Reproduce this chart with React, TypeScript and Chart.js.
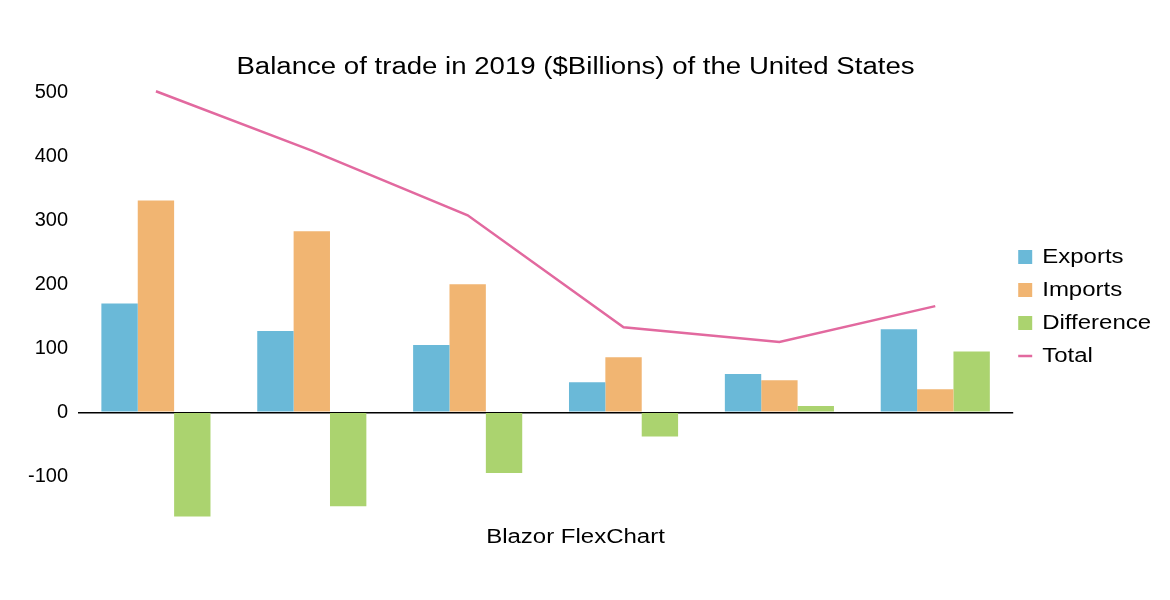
import React, { useEffect, useRef } from 'react';
import { Chart, registerables } from 'chart.js';

Chart.register(...registerables);

// ---- data ----
const categories = ['Group 1', 'Group 2', 'Group 3', 'Group 4', 'Group 5', 'Group 6'];
const exportsValues = [170, 127, 105, 47, 60, 130];
const importsValues = [331, 283, 200, 86, 50, 36];
const differenceValues = [-163, -147, -95, -38, 10, 95];
const totalValues = [502, 409, 308, 133, 110, 166];
const yTickValues = [-100, 0, 100, 200, 300, 400, 500];
const yMin = -170;
const yMax = 510;

const titleText = 'Balance of trade in 2019 ($Billions) of the United States';
const footerText = 'Blazor FlexChart';

const FONT = "'Liberation Sans', Arial, Helvetica, sans-serif";
const TEXT_STRETCH = 1.2;

// The reference renders its title, legend and footer text horizontally widened;
// this wraps the text boxes' drawing so their glyphs are widened about each text anchor.
const textStretchPlugin = {
  id: 'textStretch',
  afterLayout(chart: any) {
    if (chart.legend) {
      chart.legend.left -= 8;
      chart.legend.right = chart.width;
      chart.legend.top += 3;
      chart.legend.bottom += 3;
    }
  },
  beforeDraw(chart: any) {
    chart.boxes.forEach((b: any) => {
      if (b.axis || b.__stretched) return;
      const isLegend = b === chart.legend;
      const orig = b.draw;
      b.draw = function (...args: any[]) {
        const ctx = this.ctx;
        const proto = Object.getPrototypeOf(ctx);
        const baseFill = proto.fillText;
        ctx.fillText = function (text: string, x: number, y: number, maxWidth?: number) {
          this.save();
          this.translate(x, y);
          this.scale(TEXT_STRETCH, 1);
          if (maxWidth === undefined || isLegend) baseFill.call(this, text, 0, 0);
          else baseFill.call(this, text, 0, 0, maxWidth / TEXT_STRETCH);
          this.restore();
        };
        try {
          orig.apply(this, args);
        } finally {
          delete ctx.fillText;
        }
      };
      b.__stretched = true;
    });
  },
};

export default function App() {
  const ref = useRef<HTMLCanvasElement>(null);

  useEffect(() => {
    document.body.style.margin = '0';
    document.body.style.background = '#ffffff';
    const canvas = ref.current;
    if (!canvas) return;
    const chart = new Chart(canvas, {
      type: 'bar',
      data: {
        labels: categories,
        datasets: [
          {
            type: 'bar',
            label: 'Exports',
            data: exportsValues,
            backgroundColor: '#6ab9d8',
            borderColor: '#6ab9d8',
            borderWidth: 0,
            pointStyle: 'rect',
            categoryPercentage: 0.7,
            barPercentage: 1,
          },
          {
            type: 'bar',
            label: 'Imports',
            data: importsValues,
            backgroundColor: '#f1b572',
            borderColor: '#f1b572',
            borderWidth: 0,
            pointStyle: 'rect',
            categoryPercentage: 0.7,
            barPercentage: 1,
          },
          {
            type: 'bar',
            label: 'Difference',
            data: differenceValues,
            backgroundColor: '#abd36f',
            borderColor: '#abd36f',
            borderWidth: 0,
            pointStyle: 'rect',
            categoryPercentage: 0.7,
            barPercentage: 1,
          },
          {
            type: 'line',
            label: 'Total',
            data: totalValues,
            borderColor: '#e2699f',
            backgroundColor: '#e2699f',
            borderWidth: 2.5,
            pointRadius: 0,
            pointHoverRadius: 0,
            pointStyle: 'line',
            tension: 0,
            fill: false,
          } as any,
        ],
      },
      options: {
        animation: false,
        responsive: true,
        maintainAspectRatio: false,
        layout: { padding: { left: 0, right: 19, top: 0, bottom: 51 } },
        plugins: {
          title: {
            display: true,
            text: titleText,
            color: '#000',
            font: { family: FONT, size: 23, weight: 'normal' },
            padding: { top: 54, bottom: 4.5 },
          },
          subtitle: {
            display: true,
            position: 'bottom',
            text: footerText,
            color: '#000',
            font: { family: FONT, size: 20, weight: 'normal' },
            padding: { top: 4, bottom: 0 },
          },
          legend: {
            display: true,
            position: 'right',
            fullSize: false,
            labels: {
              usePointStyle: true,
              pointStyleWidth: 14,
              boxHeight: 14,
              boxWidth: 14,
              padding: 13,
              color: '#000',
              font: { family: FONT, size: 20 },
            },
          },
          tooltip: { enabled: false },
        },
        scales: {
          x: {
            display: false,
            offset: true,
          },
          y: {
            min: yMin,
            max: yMax,
            afterBuildTicks: (axis: any) => {
              axis.ticks = yTickValues.map((v) => ({ value: v }));
            },
            afterFit: (axis: any) => {
              axis.width = 78;
            },
            border: { display: false },
            grid: {
              drawTicks: false,
              lineWidth: 1.5,
              color: (ctx: any) => (ctx.tick && ctx.tick.value === 0 ? '#000000' : 'rgba(0,0,0,0)'),
            },
            ticks: {
              padding: 10,
              color: '#000',
              font: { family: FONT, size: 20 },
            },
          },
        },
      },
      plugins: [textStretchPlugin],
    } as any);
    return () => chart.destroy();
  }, []);

  return (
    <div style={{ width: 1170, height: 600, position: 'relative' }}>
      <canvas ref={ref} />
    </div>
  );
}
